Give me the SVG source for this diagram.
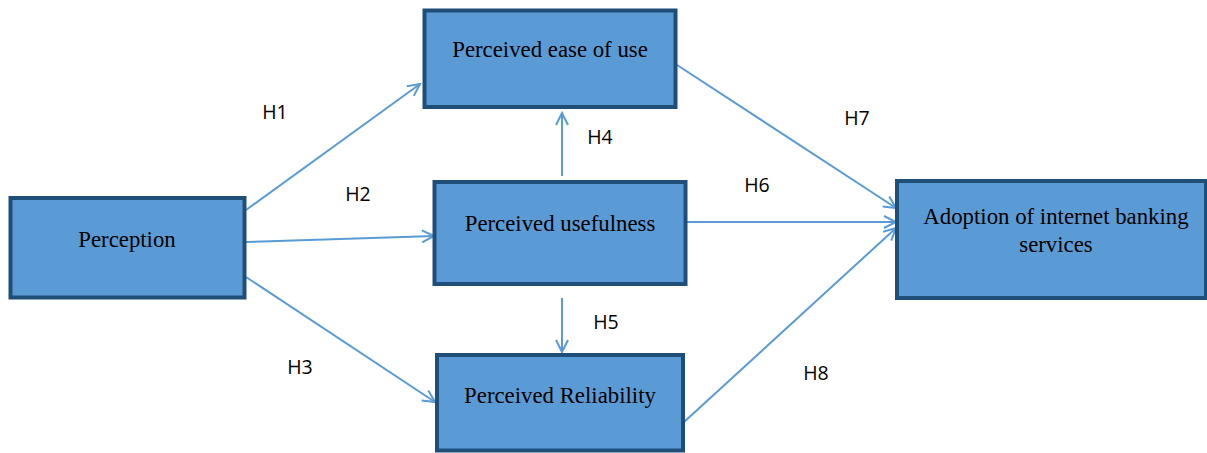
<svg xmlns="http://www.w3.org/2000/svg" width="1207" height="453" viewBox="0 0 1207 453">
<style>
.box{fill:#5B9BD5;stroke:#1F4E79;stroke-width:4}
.lbl{font-family:"Liberation Serif","Times New Roman",serif;font-size:22.8px;fill:#000;text-anchor:middle}
.h{font-family:"Open Sans","Liberation Sans",Arial,sans-serif;font-size:19.5px;fill:#000;text-anchor:middle}
.c{stroke:#5B9BD5;stroke-width:2;fill:none;marker-end:url(#arr)}
</style>
<defs>
<marker id="arr" markerUnits="userSpaceOnUse" markerWidth="16" markerHeight="16" viewBox="0 0 16 16" refX="14" refY="8" orient="auto">
<path d="M2,2 L14,8 L2,14" fill="none" stroke="#5B9BD5" stroke-width="2"/>
</marker>
</defs>
<rect width="1207" height="453" fill="#fff"/>
<g id="connectors">
<line class="c" x1="246" y1="210" x2="420" y2="84"/>
<line class="c" x1="246" y1="242" x2="434" y2="236"/>
<line class="c" x1="246" y1="277" x2="435" y2="402"/>
<line class="c" x1="562" y1="176" x2="562" y2="113"/>
<line class="c" x1="562" y1="298" x2="562" y2="352"/>
<line class="c" x1="683" y1="222" x2="896" y2="222"/>
<line class="c" x1="674" y1="63" x2="896" y2="208"/>
<line class="c" x1="684" y1="422" x2="896" y2="228"/>
</g>
<g id="perception"><rect class="box" x="10.5" y="198" width="234" height="99.5"/><text class="lbl" x="127" y="247">Perception</text></g>
<g id="ease"><rect class="box" x="424.5" y="10.5" width="251" height="96.5"/><text class="lbl" x="550" y="57">Perceived ease of use</text></g>
<g id="usefulness"><rect class="box" x="434.5" y="182" width="251" height="102"/><text class="lbl" x="560" y="231">Perceived usefulness</text></g>
<g id="reliability"><rect class="box" x="437" y="355" width="246" height="95.5"/><text class="lbl" x="560" y="403">Perceived Reliability</text></g>
<g id="adoption"><rect class="box" x="897" y="181" width="309" height="117"/><text class="lbl" x="1056" y="224">Adoption of internet banking</text><text class="lbl" x="1056" y="252">services</text></g>
<g id="hlabels">
<text class="h" x="275" y="119">H1</text>
<text class="h" x="358" y="201">H2</text>
<text class="h" x="300" y="374">H3</text>
<text class="h" x="600" y="144">H4</text>
<text class="h" x="606" y="329">H5</text>
<text class="h" x="757" y="192">H6</text>
<text class="h" x="857" y="125">H7</text>
<text class="h" x="816" y="380">H8</text>
</g>
</svg>
